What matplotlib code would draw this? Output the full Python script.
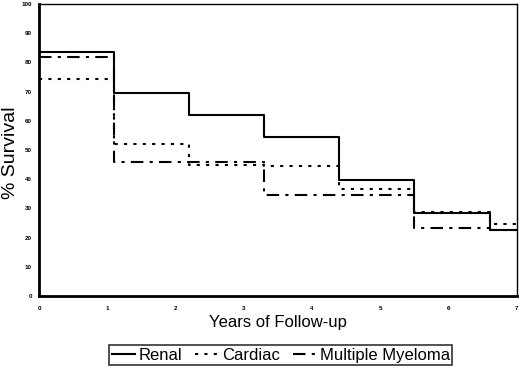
import numpy as np
import matplotlib.pyplot as plt

plt.rcParams['font.family'] = ['Liberation Sans', 'DejaVu Sans']

# step start times (years) and survival (%) per group
years = [0, 1.1, 2.2, 3.3, 4.4, 5.5, 6.6, 7]
renal = [83.5, 69.6, 62.0, 54.4, 39.7, 28.3, 22.7]
cardiac = [74.4, 52.0, 44.8, 44.5, 36.6, 28.7, 24.5]
myeloma = [82.0, 45.8, 45.8, 34.6, 34.6, 23.1, 22.7]

fig = plt.figure(figsize=(5.2, 3.68), dpi=100)
ax = fig.add_axes([0.075, 0.196, 0.919, 0.793])


def step_line(vals, **kw):
    v = vals + [vals[-1]]
    return ax.step(years, v, where='post', color='black', lw=1.5, **kw)[0]


h1 = step_line(renal, linestyle='-', label='Renal')
h2 = step_line(cardiac, linestyle=(0, (1.5, 3)), label='Cardiac')
h3 = step_line(myeloma, linestyle=(0, (6, 3, 1.5, 3)), label='Multiple Myeloma')

ax.set_xlim(0, 7)
ax.set_ylim(0, 100)
ax.set_xticks(range(0, 8))
ax.set_yticks(range(0, 101, 10))
ax.tick_params(length=0, labelsize=4.5)
ax.tick_params(axis='x', pad=7)
ax.tick_params(axis='y', pad=5)
for lab in ax.get_xticklabels() + ax.get_yticklabels():
    lab.set_fontweight('bold')

ax.spines['left'].set_linewidth(2)
ax.spines['bottom'].set_linewidth(2)
ax.spines['top'].set_linewidth(1)
ax.spines['right'].set_linewidth(1)

ax.set_xlabel('Years of Follow-up', fontsize=12, labelpad=3)
fig.text(0.021, 0.584, '% Survival', fontsize=14, rotation=90, ha='center', va='center')

leg = fig.legend(handles=[h1, h2, h3], loc='center', bbox_to_anchor=(0.54, 0.035),
                 ncol=3, fontsize=12, frameon=True, fancybox=False, edgecolor='black',
                 handlelength=1.4, handletextpad=0.2, columnspacing=0.8,
                 borderpad=0.15, borderaxespad=0)
leg.get_frame().set_linewidth(1.2)

fig.savefig('out.png', dpi=100)
